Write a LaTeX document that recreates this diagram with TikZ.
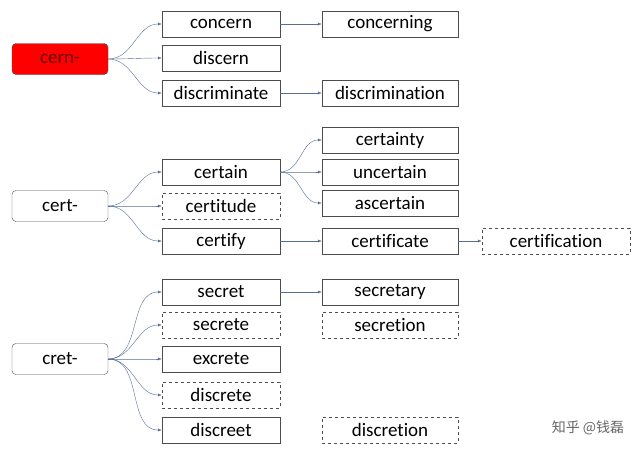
\documentclass[tikz,border=0pt]{standalone}
\usepackage{fontspec}
\setmainfont[Ligatures={NoCommon,TeX}]{Carlito}
\newfontfamily\cjk{Noto Sans CJK SC}
\usetikzlibrary{arrows.meta}
\definecolor{slate}{RGB}{88,110,150}
\begin{document}
\begin{tikzpicture}[
    x=1pt, y=-1pt,
    >={Latex[length=4pt,width=3pt]},
    font=\fontsize{19}{21}\selectfont,
    root/.style={
      draw=black!70,
      rounded corners=4pt,
      minimum width=96pt,
      minimum height=31pt
    },
    word/.style={
      draw=black!70,
      minimum width=118pt,
      minimum height=26pt,
      inner sep=1pt
    },
    wide/.style={word, minimum width=136pt},
    maybe/.style={dashed},
    link/.style={->, draw=slate, thin}
  ]
    \useasboundingbox (0,0) rectangle (640,453);
    % roots
    \node[root, fill=red, text=black!60!red] (cern) at (60,59) {cern-};
    \node[root] (cert) at (60,206) {cert-};
    \node[root] (cret) at (60,359) {cret-};

    % first column
    \node[word] (concern) at (221,24) {concern};
    \node[word] (discern) at (221,58) {discern};
    \node[word] (discriminate) at (221,93) {discriminate};
    \node[word] (certain) at (221,172) {certain};
    \node[word, maybe] (certitude) at (221,206) {certitude};
    \node[word] (certify) at (221,241) {certify};
    \node[word] (secret) at (221,292) {secret};
    \node[word, maybe] (secrete) at (221,325) {secrete};
    \node[word] (excrete) at (221,359) {excrete};
    \node[word, maybe] (discrete) at (221,395) {discrete};
    \node[word] (discreet) at (221,430) {discreet};

    % second column
    \node[wide] (concerning) at (390,24) {concerning};
    \node[wide] (discrimination) at (390,93) {discrimination};
    \node[wide] (certainty) at (390,140) {certainty};
    \node[wide] (uncertain) at (390,172) {uncertain};
    \node[wide] (ascertain) at (390,203) {ascertain};
    \node[wide] (certificate) at (390,241) {certificate};
    \node[wide] (secretary) at (390,292) {secretary};
    \node[wide, maybe] (secretion) at (390,325) {secretion};
    \node[wide, maybe] (discretion) at (390,430) {discretion};

    % third column
    \node[word, maybe, minimum width=148pt] (certification) at (556,241) {certification};

    \foreach \a/\b in {cern/concern, cern/discern, cern/discriminate,
        cert/certain, cert/certitude, cert/certify,
        cret/secret, cret/secrete, cret/excrete, cret/discrete, cret/discreet,
        certain/certainty, certain/uncertain, certain/ascertain}
      \draw[link] (\a.east) to[out=0, in=180] (\b.west);
    \foreach \a/\b in {concern/concerning, discriminate/discrimination,
        certify/certificate, certificate/certification, secret/secretary}
      \draw[link] (\a) -- (\b);

    \node[text=black!60, font=\cjk\fontsize{14}{16}\selectfont] (mark) at (588,428) {知乎 @钱磊};
\end{tikzpicture}
\end{document}
